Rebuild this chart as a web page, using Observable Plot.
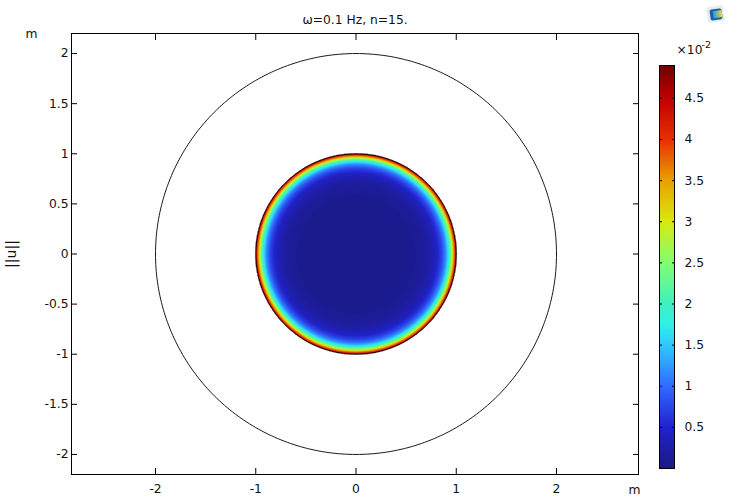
<!DOCTYPE html>
<html><head><meta charset="utf-8">
<script src="https://cdn.jsdelivr.net/npm/d3@7"></script>
<script src="https://cdn.jsdelivr.net/npm/@observablehq/plot@0.6"></script>
<style>
html,body{margin:0;padding:0;background:#fff}
#root{position:relative;width:731px;height:497px;overflow:hidden}
#root svg{position:absolute;background:transparent}
#icon{position:absolute;left:707px;top:6px;width:17px;height:16px;background:#e9ebf0;border-radius:2px;transform:rotate(-8deg)}
#icon i{position:absolute;left:3px;top:3px;width:12px;height:11px;background:#1560b0;border-radius:2px}
#icon b{position:absolute;left:6px;top:5px;width:9px;height:7px;background:linear-gradient(90deg,#2c9ad8,#f0d838)}
</style></head><body><div id="root"><div id="icon"><i></i><b></b></div></div>
<script>
const titleText = "ω=0.1 Hz, n=15.";
const unitLabel = "m";
const fieldLabel = "||u||";
const xTicks = [-2, -1, 0, 1, 2];
const yTicks = [-2, -1.5, -1, -0.5, 0, 0.5, 1, 1.5, 2];
const barTicks = [0.5, 1, 1.5, 2, 2.5, 3, 3.5, 4, 4.5];

// radial profile of ||u|| (in 1e-2)
const profileR = [0, .5, .6, .7, .75, .8, .85, .88, .9, .92, .94, .95, .96, .97, .98, .99, 1];
const profileV = [.06, .07, .1, .18, .27, .42, .7, 1, 1.28, 1.68, 2.2, 2.5, 2.9, 3.3, 3.75, 4.2, 4.7];

// colour table
const colorValues = [0, .5, 1, 1.5, 1.75, 2, 2.5, 3, 3.5, 4, 4.5, 4.9];
const colorStops = ["#1a1a84", "#2222cc", "#2f6cff", "#30c8ff", "#30f0e8", "#40f0c0", "#80ff70", "#d8ea10", "#e8a000", "#e83000", "#c00000", "#700000"];
const barDomain = [0, 4.9];

// circle sample angles (degrees) for the two boundaries
const angles = d3.range(0, 361, 1);
const radii = [1, 2];
const boundary = radii.flatMap(r => angles.map(a => ({r, a})));

const color = {type: "linear", domain: colorValues, range: colorStops, interpolate: "rgb", clamp: true};
const lookup = d3.scaleLinear(profileR, profileV);
const font = {fontFamily: "'DejaVu Sans'", fontSize: 12.3};

const main = Plot.plot({
  width: 731, height: 497,
  marginLeft: 71, marginRight: 93, marginTop: 33, marginBottom: 23,
  style: {...font, color: "#111", overflow: "visible"},
  x: {domain: [-2.838, 2.818], label: null},
  y: {domain: [-2.2, 2.2], label: null},
  color,
  marks: [
    Plot.raster({
      fill: (x, y) => { const r = Math.hypot(x, y); return r <= 1.003 ? lookup(Math.min(r, 1)) : NaN; },
      x1: -1.02, x2: 1.02, y1: -1.02, y2: 1.02, pixelSize: 1
    }),
    Plot.line(boundary, {z: "r", x: d => d.r * Math.cos(d.a * Math.PI / 180), y: d => d.r * Math.sin(d.a * Math.PI / 180), stroke: "#000", strokeWidth: 0.9}),
    Plot.axisX({anchor: "bottom", ticks: xTicks, tickSize: -6, tickPadding: 16, tickFormat: String, stroke: "#000", strokeOpacity: 1}),
    Plot.axisX({anchor: "top", ticks: xTicks, tickSize: -6, tickFormat: () => "", stroke: "#000", strokeOpacity: 1}),
    Plot.axisY({anchor: "left", ticks: yTicks, tickSize: -6, tickPadding: 9, tickFormat: String, stroke: "#000", strokeOpacity: 1}),
    Plot.axisY({anchor: "right", ticks: yTicks, tickSize: -6, tickFormat: () => "", stroke: "#000", strokeOpacity: 1}),
    Plot.frame({stroke: "#000"}),
    Plot.text([titleText], {frameAnchor: "top", dy: -18, ...font, fill: "#111"}),
    Plot.text([unitLabel], {frameAnchor: "top-left", dx: -46, dy: -4, ...font, fill: "#111"}),
    Plot.text([unitLabel], {frameAnchor: "bottom-right", dx: 2, dy: 19, ...font, fill: "#111"}),
    Plot.text([fieldLabel], {frameAnchor: "left", textAnchor: "middle", rotate: -90, dx: -60, ...font, fontSize: 14, fill: "#111"})
  ]
});
main.style.left = "0"; main.style.top = "0";
document.getElementById("root").append(main);

const bar = Plot.plot({
  width: 91, height: 445,
  marginLeft: 19, marginRight: 57, marginTop: 25, marginBottom: 17,
  style: {...font, color: "#111", overflow: "visible"},
  x: {axis: null, domain: [0, 1]},
  y: {domain: barDomain, label: null},
  color,
  marks: [
    Plot.raster({fill: (x, y) => y, x1: 0, x2: 1, y1: barDomain[0], y2: barDomain[1], pixelSize: 1}),
    Plot.axisY({anchor: "right", ticks: barTicks, tickSize: -3, tickPadding: 13, tickFormat: String, stroke: "#000", strokeOpacity: 1}),
    Plot.axisY({anchor: "left", ticks: barTicks, tickSize: -3, tickFormat: () => "", stroke: "#000", strokeOpacity: 1}),
    Plot.frame({stroke: "#000"}),
    Plot.text(["×10"], {frameAnchor: "top-left", textAnchor: "start", dx: 17, dy: -20, ...font, fill: "#111"}),
    Plot.text(["-2"], {frameAnchor: "top-left", textAnchor: "start", dx: 42, dy: -24, ...font, fontSize: 9.5, fill: "#111"})
  ]
});
bar.style.left = "640px"; bar.style.top = "40px";
document.getElementById("root").append(bar);
</script></body></html>
